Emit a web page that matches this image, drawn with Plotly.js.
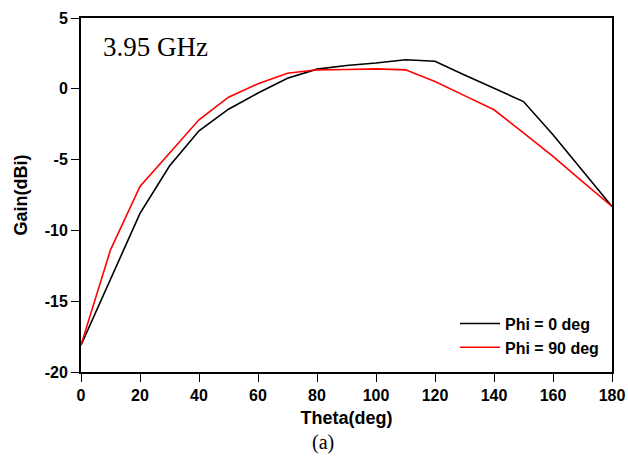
<!DOCTYPE html>
<html>
<head>
<meta charset="utf-8">
<script src="https://cdn.plot.ly/plotly-3.0.1.min.js"></script>
<style>html,body{margin:0;padding:0;background:#fff;}#chart{width:628px;height:456px;}</style>
</head>
<body>
<div id="chart"></div>
<script>
const theta = [0, 10, 20, 30, 40, 50, 60, 70, 80, 90, 100, 110, 120, 130, 140, 150, 160, 170, 180];
const gainPhi0 = [-18.1, -13.5, -8.8, -5.45, -2.97, -1.44, -0.3, 0.75, 1.39, 1.65, 1.82, 2.05, 1.95, 0.98, 0.04, -0.9, -3.25, -5.77, -8.31];
const gainPhi90 = [-18.1, -11.37, -6.9, -4.54, -2.19, -0.59, 0.35, 1.1, 1.34, 1.36, 1.41, 1.34, 0.52, -0.48, -1.48, -3.12, -4.78, -6.55, -8.31];
const seriesNames = ["Phi = 0 deg", "Phi = 90 deg"];
const xTicks = [0, 20, 40, 60, 80, 100, 120, 140, 160, 180];
const yTicks = [5, 0, -5, -10, -15, -20];

const traces = [
  {x: theta, y: gainPhi0, name: seriesNames[0], mode: "lines", line: {color: "#000000", width: 1.6}},
  {x: theta, y: gainPhi90, name: seriesNames[1], mode: "lines", line: {color: "#ff0000", width: 1.6}}
];

const tickFont = {family: "Liberation Sans, Arial, sans-serif", size: 16, color: "#000", weight: "bold"};
const titleFont = {family: "Liberation Sans, Arial, sans-serif", size: 18, color: "#000", weight: "bold"};

const layout = {
  width: 628, height: 456,
  margin: {l: 81, r: 16, t: 18, b: 84},
  paper_bgcolor: "#fff", plot_bgcolor: "#fff",
  showlegend: true,
  legend: {x: 0.985, y: 0.021, xanchor: "right", yanchor: "bottom", bgcolor: "rgba(0,0,0,0)",
           font: {family: "Liberation Sans, Arial, sans-serif", size: 16, color: "#000", weight: "bold"},
           tracegroupgap: 0, itemwidth: 40},
  xaxis: {
    range: [0, 180], tickvals: xTicks, ticktext: xTicks.map(String),
    showgrid: false, zeroline: false, showline: true, linecolor: "#000", linewidth: 2,
    mirror: true, ticks: "outside", ticklen: 8, tickwidth: 1, tickcolor: "#000",
    tickfont: tickFont,
    title: {text: "Theta(deg)", font: titleFont, standoff: 8}
  },
  yaxis: {
    range: [-20, 5], tickvals: yTicks, ticktext: yTicks.map(String),
    showgrid: false, zeroline: false, showline: true, linecolor: "#000", linewidth: 2,
    mirror: true, ticks: "outside", ticklen: 8, tickwidth: 1, tickcolor: "#000",
    tickfont: tickFont,
    title: {text: "Gain(dBi)", font: titleFont, standoff: 12}
  },
  annotations: [
    {text: "3.95 GHz", xref: "paper", yref: "paper", x: 0.037, y: 0.918, xanchor: "left", yanchor: "middle",
     showarrow: false, font: {family: "Liberation Serif, Times New Roman, serif", size: 27, color: "#000"}},
    {text: "(a)", xref: "paper", yref: "paper", x: 0.456, y: -0.198, xanchor: "center", yanchor: "middle",
     showarrow: false, font: {family: "Liberation Serif, Times New Roman, serif", size: 20, color: "#000"}}
  ]
};

Plotly.newPlot("chart", traces, layout, {displayModeBar: false, staticPlot: true});
</script>
</body>
</html>
